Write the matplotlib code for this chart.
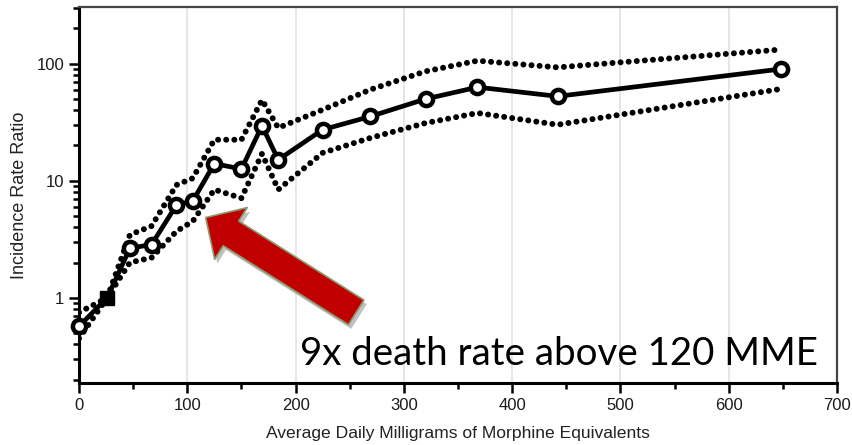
import matplotlib
matplotlib.use("Agg")
import matplotlib.pyplot as plt
import matplotlib.patheffects as pe
from matplotlib.patches import FancyArrowPatch
from matplotlib.ticker import FixedLocator, LogLocator, NullFormatter, FuncFormatter

# average daily MME vs. incidence rate ratio (point estimate + 95% CI)
mme = [0, 26, 47, 67, 90, 105, 125, 150, 169, 184, 225, 269, 320, 368, 442, 648]
irr = [0.57, 1.0, 2.65, 2.85, 6.2, 6.7, 14.0, 12.6, 29.5, 15.1, 27.3, 35.4, 49.9, 63.0, 52.6, 90.0]
ci_upper = [0.75, 1.0, 3.45, 4.1, 9.2, 10.5, 22.4, 22.4, 49.0, 28.3, 40.4, 60.0, 86.0, 106.0, 93.0, 132.0]
ci_lower = [0.45, 1.0, 2.0, 2.2, 3.7, 4.5, 8.4, 7.1, 17.0, 8.4, 17.3, 23.2, 31.1, 37.9, 30.1, 60.8]
ref_idx = 1  # reference group (IRR = 1)

x_ticks = [0, 100, 200, 300, 400, 500, 600, 700]
y_ticks = [1, 10, 100]

annotation = "9x death rate above 120 MME"
arrow_tip = (117, 4.85)
arrow_tail = (256, 0.75)

plt.rcParams["font.family"] = ["Liberation Sans", "DejaVu Sans"]

fig = plt.figure(figsize=(8.52, 4.45), dpi=100)
ax = fig.add_axes([79 / 852, 1 - 383 / 445, (837 - 79) / 852, (383 - 7) / 445])

ax.set_yscale("log")
ax.set_xlim(0, 700)
ax.set_ylim(0.187, 305)

# vertical grid
for gx in x_ticks[1:-1]:
    ax.axvline(gx, color="#e2e2e2", lw=1.2, zorder=0)

dot_style = dict(color="black", lw=4.3, linestyle=(0, (0.01, 1.35)),
                 dash_capstyle="round", zorder=2)
ax.plot(mme, ci_upper, **dot_style)
ax.plot(mme, ci_lower, **dot_style)

ax.plot(mme, irr, color="black", lw=3.4, zorder=3, clip_on=False)
pts_x = [m for i, m in enumerate(mme) if i != ref_idx]
pts_y = [v for i, v in enumerate(irr) if i != ref_idx]
ax.plot(pts_x, pts_y, "o", ms=9.5, mfc="white", mec="black", mew=3.2, zorder=4,
        clip_on=False)
ax.plot([mme[ref_idx]], [irr[ref_idx]], "s", ms=10, color="black", zorder=4)

# axes styling
for side in ["left", "bottom"]:
    ax.spines[side].set_linewidth(2.2)
    ax.spines[side].set_color("black")
for side in ["top", "right"]:
    ax.spines[side].set_linewidth(1.6)
    ax.spines[side].set_color("#444444")

ax.xaxis.set_major_locator(FixedLocator(x_ticks))
ax.xaxis.set_minor_locator(FixedLocator([50, 150, 250, 350, 450, 550, 650]))
ax.yaxis.set_major_locator(FixedLocator(y_ticks))
ax.yaxis.set_minor_locator(LogLocator(base=10, subs=range(2, 10)))
ax.yaxis.set_minor_formatter(NullFormatter())
ax.yaxis.set_major_formatter(FuncFormatter(lambda v, p: f"{v:g}"))

ax.tick_params(axis="both", which="major", direction="out", length=7.5, width=1.8,
               labelsize=12, pad=3, color="black", labelcolor="#1a1a1a")
ax.tick_params(axis="both", which="minor", direction="out", length=4.3, width=1.8,
               color="black")

ax.set_xlabel("Average Daily Milligrams of Morphine Equivalents", fontsize=12.6,
              color="#222222", labelpad=10)
ax.set_ylabel("Incidence Rate Ratio", fontsize=13, color="#222222", labelpad=6)

# red callout arrow
arrow = FancyArrowPatch(arrow_tail, arrow_tip,
                        arrowstyle="simple,head_length=21.5,head_width=44,tail_width=21",
                        mutation_scale=1, shrinkA=0, shrinkB=0,
                        facecolor="#c00000", edgecolor="#8c9a70", lw=1.2, zorder=6,
                        transform=ax.transData)
arrow.set_path_effects([pe.SimplePatchShadow(offset=(2, -3), shadow_rgbFace="#777777", alpha=0.45),
                        pe.Normal()])
ax.add_patch(arrow)

ax.text(682, 0.267, annotation, ha="right", va="baseline", fontsize=27.7,
        family=["Lato", "DejaVu Sans"], color="black", zorder=7)

fig.savefig("out.png", dpi=100)
